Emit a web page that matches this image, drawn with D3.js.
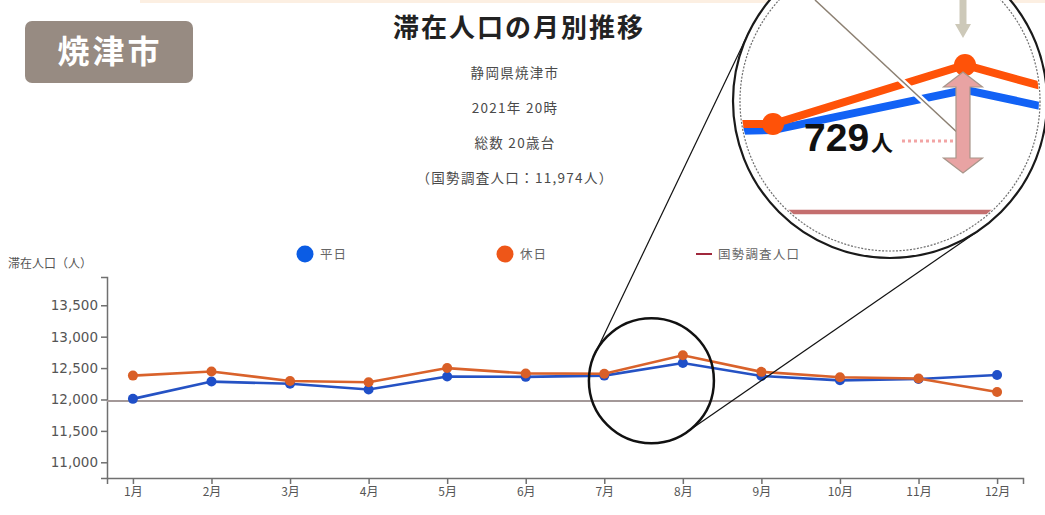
<!DOCTYPE html>
<html lang="ja">
<head>
<meta charset="utf-8">
<script src="https://cdn.jsdelivr.net/npm/d3@7/dist/d3.min.js"></script>
<style>
  html, body { margin: 0; padding: 0; background: #fff; }
  svg { display: block; }
</style>
</head>
<body>
<svg id="chart" width="1045" height="515"></svg>
<script>
// ---- data ----
const months = ["1月", "2月", "3月", "4月", "5月", "6月", "7月", "8月", "9月", "10月", "11月", "12月"];
const weekday = [12010, 12285, 12250, 12160, 12365, 12360, 12380, 12580, 12375, 12305, 12325, 12390];
const holiday = [12380, 12445, 12295, 12275, 12500, 12415, 12410, 12703, 12440, 12355, 12335, 12120];
const census = 11974;
const yTicks = [11000, 11500, 12000, 12500, 13000, 13500];
const seriesNames = ["平日", "休日", "国勢調査人口"];
const cityName = "焼津市";
const titleText = "滞在人口の月別推移";
const subtitles = ["静岡県焼津市", "2021年 20時", "総数 20歳台"];
const yLabel = "滞在人口（人）";

const fmt = d3.format(",");
const svg = d3.select("#chart");
const JP = "'Noto Sans CJK JP', 'Noto Sans', sans-serif";

// thin strip along the top edge
svg.append("rect").attr("x", 140).attr("y", 0).attr("width", 905).attr("height", 3).attr("fill", "#fcefe2");

// city badge
svg.append("rect").attr("x", 25).attr("y", 21).attr("width", 168).attr("height", 62).attr("rx", 7)
  .attr("fill", "#978b82");
svg.append("text").attr("x", 110).attr("y", 63).attr("text-anchor", "middle")
  .attr("font-family", JP).attr("font-weight", 700).attr("font-size", 32).attr("letter-spacing", 3)
  .attr("fill", "#fff").text(cityName);

// title block
svg.append("text").attr("x", 519).attr("y", 37).attr("text-anchor", "middle")
  .attr("font-family", JP).attr("font-weight", 700).attr("font-size", 26).attr("letter-spacing", 2)
  .attr("fill", "#222").text(titleText);
const subs = subtitles.concat([`（国勢調査人口：${fmt(census)}人）`]);
subs.forEach((s, i) => {
  svg.append("text").attr("x", 515).attr("y", 78 + i * 35).attr("text-anchor", "middle")
    .attr("font-family", JP).attr("font-size", 13.5).attr("letter-spacing", 1.3)
    .attr("fill", "#4a4a4a").text(s);
});

// ---- scales ----
const x = d3.scalePoint().domain(months).range([107, 1023]).padding(0.33);
const y = d3.scaleLinear().domain([10750, 13950]).range([478, 277]);

// axes
const gx = svg.append("g").attr("transform", `translate(0,${y.range()[0]})`)
  .call(d3.axisBottom(x).tickSize(6));
const gy = svg.append("g").attr("transform", `translate(${x.range()[0]},0)`)
  .call(d3.axisLeft(y).tickValues(yTicks).tickFormat(fmt).tickSize(6));
[gx, gy].forEach(g => {
  g.selectAll("path, line").attr("stroke", "#707070").attr("stroke-width", 1.5);
});
gx.selectAll("text").attr("font-family", JP).attr("font-size", 12).attr("fill", "#555");
gy.selectAll("text").attr("font-family", "'DejaVu Sans', Verdana, sans-serif").attr("font-size", 13.5).attr("fill", "#555");

svg.append("text").attr("x", 8).attr("y", 268).attr("font-family", JP).attr("font-size", 12)
  .attr("fill", "#555").text(yLabel);

// census reference line
svg.append("line").attr("x1", x.range()[0]).attr("x2", x.range()[1])
  .attr("y1", y(census)).attr("y2", y(census))
  .attr("stroke", "#a39898").attr("stroke-width", 2);

// series
const series = [
  { name: seriesNames[0], values: weekday, line: "#2552c4", dot: "#1f4fc8" },
  { name: seriesNames[1], values: holiday, line: "#d9622b", dot: "#d95f27" }
];
const line = d3.line().x((d, i) => x(months[i])).y(d => y(d));
series.forEach(s => {
  svg.append("path").datum(s.values).attr("d", line).attr("fill", "none")
    .attr("stroke", s.line).attr("stroke-width", 2.6);
  svg.append("g").selectAll("circle").data(s.values).join("circle")
    .attr("cx", (d, i) => x(months[i])).attr("cy", d => y(d)).attr("r", 5)
    .attr("fill", s.dot);
});

// legend
const legY = 254;
svg.append("circle").attr("cx", 305).attr("cy", legY).attr("r", 8.5).attr("fill", "#0b5ce4");
svg.append("text").attr("x", 320).attr("y", legY + 4.5).attr("font-family", JP).attr("font-size", 12.5)
  .attr("letter-spacing", 1).attr("fill", "#666").text(seriesNames[0]);
svg.append("circle").attr("cx", 505).attr("cy", legY).attr("r", 8.5).attr("fill", "#ee5618");
svg.append("text").attr("x", 520).attr("y", legY + 4.5).attr("font-family", JP).attr("font-size", 12.5)
  .attr("letter-spacing", 1).attr("fill", "#666").text(seriesNames[1]);
svg.append("line").attr("x1", 696).attr("x2", 712).attr("y1", legY).attr("y2", legY)
  .attr("stroke", "#a0283c").attr("stroke-width", 2);
svg.append("text").attr("x", 718).attr("y", legY + 4.5).attr("font-family", JP).attr("font-size", 12.5)
  .attr("letter-spacing", 1.2).attr("fill", "#666").text(seriesNames[2]);

// ---- magnifier: small lens around the August peak, enlarged view up right ----
const lens = { x: x("7月") + 0.6 * x.step(), y: y(12300), r: 62.5 };
const big = { x: 890, y: 101, r: 157 };

// external tangent lines joining the two circles
const dx = big.x - lens.x, dy = big.y - lens.y, D = Math.hypot(dx, dy);
const th = Math.atan2(dy, dx), a = Math.acos((lens.r - big.r) / D);
[th + a, th - a].forEach(ang => {
  const nx = Math.cos(ang), ny = Math.sin(ang);
  svg.append("line")
    .attr("x1", lens.x + lens.r * nx).attr("y1", lens.y + lens.r * ny)
    .attr("x2", big.x + big.r * nx).attr("y2", big.y + big.r * ny)
    .attr("stroke", "#111").attr("stroke-width", 1.2);
});
svg.append("circle").attr("cx", lens.x).attr("cy", lens.y).attr("r", lens.r)
  .attr("fill", "none").attr("stroke", "#111").attr("stroke-width", 2.5);

// enlarged view
svg.append("circle").attr("cx", big.x).attr("cy", big.y).attr("r", big.r)
  .attr("fill", "#fff").attr("stroke", "#1a1a1a").attr("stroke-width", 2.2);
const defs = svg.append("defs");
defs.append("clipPath").attr("id", "zoomClip").append("circle")
  .attr("cx", big.x).attr("cy", big.y).attr("r", 149);
const zg = svg.append("g").attr("clip-path", "url(#zoomClip)");

const peak = holiday[7];
const xm = d3.scaleLinear().domain([6, 7]).range([773, 965]);
const ym = d3.scaleLinear().domain([census, peak]).range([212, 65]);

zg.append("line").attr("x1", big.x - big.r).attr("x2", big.x + big.r)
  .attr("y1", ym(census)).attr("y2", ym(census))
  .attr("stroke", "#c46e6e").attr("stroke-width", 4.5);
const mline = d3.line().x((d, i) => xm(i)).y(d => ym(d));
zg.append("path").datum(weekday).attr("d", mline).attr("fill", "none")
  .attr("stroke", "#1262f5").attr("stroke-width", 8);
zg.append("path").datum(holiday).attr("d", mline).attr("fill", "none")
  .attr("stroke", "#ff5208").attr("stroke-width", 8);
zg.selectAll("circle.m").data([6, 7]).join("circle").attr("class", "m")
  .attr("cx", i => xm(i)).attr("cy", i => ym(holiday[i])).attr("r", 11).attr("fill", "#ff5208");

// dotted inner ring
svg.append("circle").attr("cx", big.x).attr("cy", big.y).attr("r", 150)
  .attr("fill", "none").attr("stroke", "#555").attr("stroke-width", 1.2)
  .attr("stroke-dasharray", "2,1.5").attr("opacity", 0.85);

// pointer line crossing the view
svg.append("line").attr("x1", 815).attr("y1", 0).attr("x2", 960).attr("y2", 135)
  .attr("stroke", "#fff").attr("stroke-width", 6);
svg.append("line").attr("x1", 815).attr("y1", 0).attr("x2", 960).attr("y2", 135)
  .attr("stroke", "#8c8072").attr("stroke-width", 1.5);

// double arrow spanning the difference between holiday peak and census
const ax = xm(7) - 2;
const aTop = ym(peak) + 7, aBot = ym(census) - 39;
const sw = 7, hw = 19.5, hh = 15;
const arrow = d3.path();
arrow.moveTo(ax, aTop);
arrow.lineTo(ax + hw, aTop + hh); arrow.lineTo(ax + sw, aTop + hh);
arrow.lineTo(ax + sw, aBot - hh); arrow.lineTo(ax + hw, aBot - hh);
arrow.lineTo(ax, aBot);
arrow.lineTo(ax - hw, aBot - hh); arrow.lineTo(ax - sw, aBot - hh);
arrow.lineTo(ax - sw, aTop + hh); arrow.lineTo(ax - hw, aTop + hh);
arrow.closePath();
svg.append("path").attr("d", arrow.toString()).attr("fill", "#e8a3a3")
  .attr("stroke", "#a8968a").attr("stroke-width", 1.2);

// down arrow marking the peak
const dArrow = d3.path();
dArrow.moveTo(ax - 3.5, 0); dArrow.lineTo(ax + 3.5, 0); dArrow.lineTo(ax + 3.5, 24);
dArrow.lineTo(ax + 8, 24); dArrow.lineTo(ax, 38); dArrow.lineTo(ax - 8, 24);
dArrow.lineTo(ax - 3.5, 24); dArrow.closePath();
svg.append("path").attr("d", dArrow.toString()).attr("fill", "#cdc9b9");

// difference label
const diff = peak - census;
svg.append("line").attr("x1", 902).attr("x2", 953).attr("y1", 141).attr("y2", 141)
  .attr("stroke", "#f2a4a4").attr("stroke-width", 3).attr("stroke-dasharray", "3,3");
const lbl = svg.append("text").attr("x", 804).attr("y", 151).attr("fill", "#111");
lbl.append("tspan").attr("font-family", "'Liberation Sans', Arial, sans-serif").attr("font-weight", 700)
  .attr("font-size", 39).text(diff);
lbl.append("tspan").attr("font-family", JP).attr("font-weight", 700).attr("font-size", 22).attr("dx", 2).text("人");
</script>
</body>
</html>
